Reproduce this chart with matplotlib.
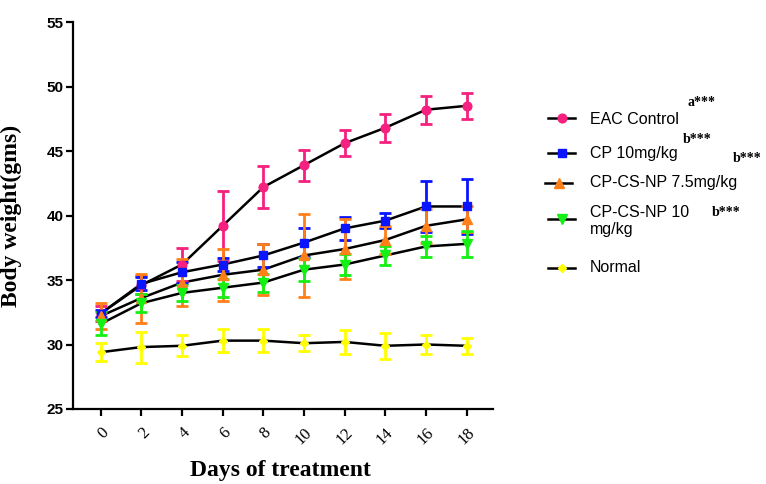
import matplotlib

matplotlib.use("Agg")

import matplotlib.pyplot as plt  # noqa: E402
from matplotlib.lines import Line2D  # noqa: E402

W, H = 766, 484

days = [0, 2, 4, 6, 8, 10, 12, 14, 16, 18]

eac_mean = [32.4, 34.6, 36.2, 39.2, 42.2, 43.9, 45.6, 46.8, 48.2, 48.5]
eac_err = [0.6, 0.7, 1.3, 2.7, 1.6, 1.2, 1.0, 1.1, 1.1, 1.0]

cp_mean = [32.4, 34.7, 35.6, 36.2, 36.9, 37.9, 39.0, 39.6, 40.7, 40.7]
cp_err = [0.3, 0.5, 0.8, 0.5, 0.9, 1.1, 0.9, 0.6, 2.0, 2.1]

np75_mean = [32.2, 33.6, 34.8, 35.4, 35.8, 36.9, 37.4, 38.1, 39.2, 39.7]
np75_err = [1.0, 1.9, 1.8, 2.0, 2.0, 3.2, 2.3, 1.1, 1.3, 1.0]

np10_mean = [31.6, 33.2, 34.0, 34.4, 34.8, 35.8, 36.2, 36.9, 37.6, 37.8]
np10_err = [0.9, 0.7, 0.6, 0.7, 0.7, 0.9, 0.8, 0.7, 0.8, 1.0]

normal_mean = [29.4, 29.8, 29.9, 30.3, 30.3, 30.1, 30.2, 29.9, 30.0, 29.9]
normal_err = [0.7, 1.2, 0.8, 0.9, 0.9, 0.6, 0.9, 1.0, 0.75, 0.6]

labels = ["EAC Control", "CP 10mg/kg", "CP-CS-NP 7.5mg/kg", "CP-CS-NP 10\nmg/kg", "Normal"]
colors = ["#f5207f", "#0a14ff", "#ff8019", "#14f014", "#ffff00"]
markers = ["o", "s", "^", "v", "D"]
msizes = [6.3, 6.3, 6.5, 6.5, 4.5]

series = [
    (eac_mean, eac_err),
    (cp_mean, cp_err),
    (np75_mean, np75_err),
    (np10_mean, np10_err),
    (normal_mean, normal_err),
]

fig = plt.figure(figsize=(W / 100, H / 100), dpi=100)
ax = fig.add_axes([73 / W, 1 - 409 / H, 420 / W, 387 / H])

for (mean, err), color, marker, ms in zip(series, colors, markers, msizes):
    ax.plot(days, mean, color="black", linewidth=1.8, zorder=2)
    ax.errorbar(days, mean, yerr=err, fmt=marker, color=color, markersize=ms,
                elinewidth=2.0, capsize=4, capthick=2.0, zorder=3)

ax.set_xlim(-1.36, 19.3)
ax.set_ylim(25, 55)
ax.set_xticks(days)
ax.set_xticklabels([str(d) for d in days], rotation=45, ha="right", va="top",
                   rotation_mode="anchor", family="Liberation Serif", fontsize=12)
ax.set_yticks(range(25, 56, 5))
for lbl in ax.get_yticklabels():
    lbl.set_family("Liberation Sans")
    lbl.set_fontweight("bold")
    lbl.set_fontsize(11)

for side in ("top", "right"):
    ax.spines[side].set_visible(False)
for side in ("left", "bottom"):
    ax.spines[side].set_linewidth(1.6)
ax.tick_params(width=1.6, length=5, pad=2)
ax.tick_params(axis="x", pad=6)

ax.set_ylabel("Body weight(gms)", family="Liberation Serif", fontweight="bold",
              fontsize=17)
ax.yaxis.set_label_coords(-0.121, 0.5)
ax.set_xlabel("Days of treatment", family="Liberation Serif", fontweight="bold",
              fontsize=17, va="center")
ax.xaxis.set_label_coords(0.495, -0.158)


def fx(px):
    return px / W


def fy(py):
    return 1 - py / H


# manual legend to match the original spacing
legend_rows = [(118, 548), (153, 548), (183, 545), (219, 548), (268, 548)]
text_y = [119, 154, 183, 221, 268]
for (py, x0), ty, label, color, marker, ms in zip(legend_rows, text_y, labels,
                                                   colors, markers, msizes):
    fig.add_artist(Line2D([fx(x0), fx(x0 + 27)], [fy(py), fy(py)], color="black",
                          linewidth=1.8, transform=fig.transFigure))
    fig.add_artist(Line2D([fx(x0 + 13.5)], [fy(py)], marker=marker, color=color,
                          markersize=ms, linestyle="none", transform=fig.transFigure))
    fig.text(fx(590), fy(ty), label, family="Liberation Sans", fontsize=11.5,
             va="center", ha="left", linespacing=1.1)

notes = [("a***", 687, 102), ("b***", 683, 140), ("b***", 733, 158), ("b***", 712, 212)]
for txt, px, py in notes:
    fig.text(fx(px), fy(py), txt, family="Liberation Serif", fontweight="bold",
             fontsize=10, va="center", ha="left")

fig.savefig("out.png", dpi=100)
